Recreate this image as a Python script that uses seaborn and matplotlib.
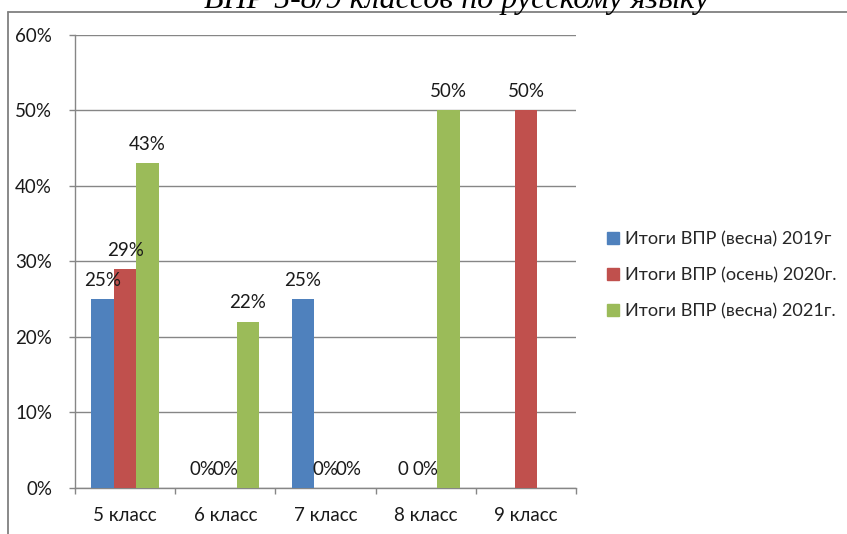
import matplotlib
matplotlib.use("Agg")
import matplotlib.pyplot as plt
import seaborn as sns
import pandas as pd
import numpy as np
from matplotlib.lines import Line2D
from matplotlib.ticker import PercentFormatter, FixedLocator

# ---- data ----
title = "ВПР 5-8/9 классов по русскому языку"
categories = ["5 класс", "6 класс", "7 класс", "8 класс", "9 класс"]
series_names = ["Итоги ВПР (весна) 2019г", "Итоги ВПР (осень) 2020г.", "Итоги ВПР (весна) 2021г."]
vals_2019 = [0.25, 0.0, 0.25, 0.0, np.nan]
vals_2020 = [0.29, 0.0, 0.0, 0.0, 0.50]
vals_2021 = [0.43, 0.22, 0.0, 0.50, np.nan]
labels_2019 = ["25%", "0%", "25%", "0", ""]
labels_2020 = ["29%", "0%", "0%", "0%", "50%"]
labels_2021 = ["43%", "22%", "0%", "50%", ""]
colors = ["#4F81BD", "#C0504D", "#9BBB59"]
y_ticks = [0, 0.1, 0.2, 0.3, 0.4, 0.5, 0.6]

sns.set_theme(style="white")
plt.rcParams["font.family"] = ["Lato", "Open Sans", "DejaVu Sans"]

rows = []
for name, vals in zip(series_names, [vals_2019, vals_2020, vals_2021]):
    for c, v in zip(categories, vals):
        rows.append({"cat": c, "series": name, "value": v})
df = pd.DataFrame(rows)

W, H = 847, 534
fig = plt.figure(figsize=(W / 100, H / 100), dpi=100)
ax = fig.add_axes([75 / W, (H - 487.7) / H, (576 - 75) / W, (487.7 - 34.7) / H])

sns.barplot(data=df, x="cat", y="value", hue="series", order=categories,
            hue_order=series_names, palette=colors, width=0.675,
            errorbar=None, ax=ax, saturation=1, zorder=3, linewidth=0)

ax.set_ylim(0, 0.6)
ax.set_xlim(-0.5, len(categories) - 0.5)
ax.yaxis.set_major_locator(FixedLocator(y_ticks))
ax.yaxis.set_major_formatter(PercentFormatter(1.0, decimals=0))
ax.set_xlabel("")
ax.set_ylabel("")
grid_c = "#868686"
ax.yaxis.grid(True, color=grid_c, lw=1.0, zorder=0)
ax.xaxis.grid(False)
for s in ["top", "right"]:
    ax.spines[s].set_visible(False)
for s in ["left", "bottom"]:
    ax.spines[s].set_color(grid_c)
    ax.spines[s].set_linewidth(1.0)

fs = 13.5
ax.tick_params(axis="y", which="major", length=4.5, width=1.0, color=grid_c,
               labelsize=fs, labelcolor="#1a1a1a", pad=12, left=True)
ax.set_xticks(np.arange(-0.5, len(categories) + 0.5, 1.0), minor=True)
ax.tick_params(axis="x", which="minor", length=4.5, width=1.0, color=grid_c, bottom=True)
ax.tick_params(axis="x", which="major", length=0, labelsize=fs, labelcolor="#1a1a1a", pad=14)

# data labels
label_sets = [labels_2019, labels_2020, labels_2021]
for cont, labs in zip(ax.containers, label_sets):
    for bar, lab in zip(cont, labs):
        if not lab:
            continue
        h = bar.get_height()
        if np.isnan(h):
            continue
        ax.annotate(lab, (bar.get_x() + bar.get_width() / 2, h),
                    xytext=(0, 9.5), textcoords="offset points",
                    ha="center", va="baseline", fontsize=fs, color="#1a1a1a",
                    zorder=5)

# legend
handles = [plt.Rectangle((0, 0), 1, 1, color=c) for c in colors]
ax.legend(handles, series_names, loc="center left",
          bbox_to_anchor=(600 / W, (H - 275.5) / H), bbox_transform=fig.transFigure,
          frameon=False, fontsize=13.1, handlelength=0.64, handleheight=0.64,
          handletextpad=0.35, labelspacing=1.08, borderaxespad=0)

# title (cropped at top) and chart frame
fig.text(456.5 / W, 1 - 8 / H, title, ha="center", va="baseline",
         fontsize=23, family="Liberation Serif", style="italic", color="black")
fig.add_artist(Line2D([7.5 / W, 1], [1 - 12 / H, 1 - 12 / H],
                      transform=fig.transFigure, color="#808080", lw=1.3))
fig.add_artist(Line2D([7.5 / W, 7.5 / W], [0, 1 - 12 / H],
                      transform=fig.transFigure, color="#808080", lw=1.3))

fig.savefig("out.png", dpi=100)
